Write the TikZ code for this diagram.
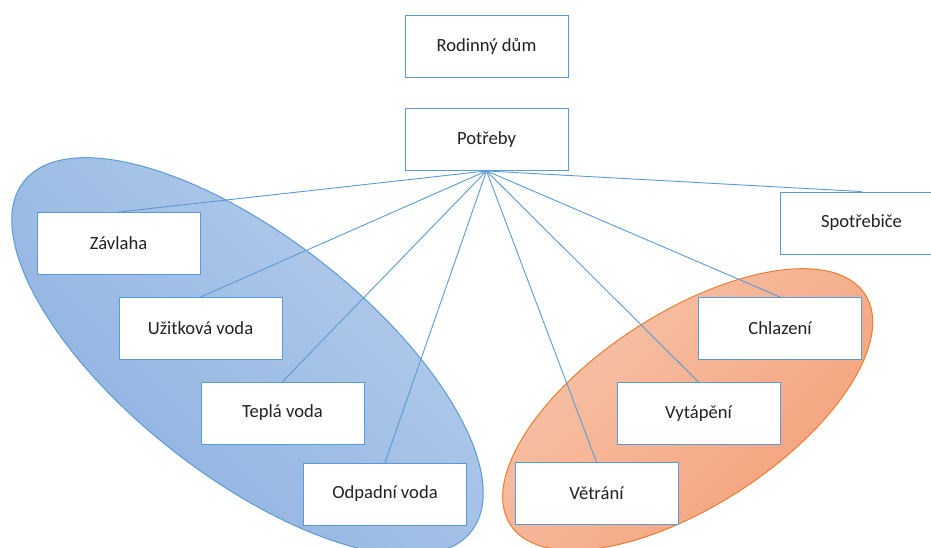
\documentclass[tikz,border=0pt]{standalone}
\usepackage{fontspec}
\setmainfont{Carlito}
\usetikzlibrary{backgrounds}
\definecolor{boxline}{HTML}{5B9BD5}
\definecolor{textgray}{HTML}{222222}
\definecolor{bluelight}{HTML}{B6CEEB}
\definecolor{bluedark}{HTML}{8BAFE0}
\definecolor{blueedge}{HTML}{5B9BD5}
\definecolor{orangelight}{HTML}{F7C5AB}
\definecolor{orangedark}{HTML}{F49F78}
\definecolor{orangeedge}{HTML}{ED7D31}
\begin{document}
\begin{tikzpicture}[x=1pt,y=1pt,
  box/.style={draw=boxline, fill=white, line width=0.9pt,
    minimum width=163pt, minimum height=62pt, inner sep=0pt,
    font=\fontsize{18.6}{22}\selectfont, text=textgray},
  link/.style={draw=boxline, line width=0.9pt},
  group/.style={line width=1pt}]
\clip (0,0) rectangle (931,-548);

% boxes
\node[box] (rod)  at (486.5,-46)    {Rodinný dům};
\node[box] (potr) at (486.5,-139.5) {Potřeby};
\node[box] (spot) at (861.5,-223)   {Spotřebiče};
\node[box] (zav)  at (118.5,-243.5) {Závlaha};
\node[box] (uzit) at (200.5,-328.5) {Užitková voda};
\node[box] (tepl) at (282.5,-413)   {Teplá voda};
\node[box] (odp)  at (385,-494)     {Odpadní voda};
\node[box] (chl)  at (780,-328.5)   {Chlazení};
\node[box] (vyt)  at (698.5,-413.5) {Vytápění};
\node[box] (vetr) at (596.5,-493.5) {Větrání};

\begin{scope}[on background layer]
  \fill[white] (0,0) rectangle (931,-548);
  % water group
  \shade[group, top color=bluelight, bottom color=bluedark, shading angle=-45,
         draw=blueedge, rotate around={-38:(247.5,-356.5)}]
    (247.5,-356.5) ellipse [x radius=284, y radius=120];
  % climate group
  \shade[group, top color=orangelight, bottom color=orangedark, shading angle=45,
         draw=orangeedge, rotate around={33:(687.7,-409.5)}]
    (687.7,-409.5) ellipse [x radius=211.5, y radius=96.5];
  % connectors
  \foreach \t in {spot,zav,uzit,tepl,odp,chl,vyt,vetr}
    \draw[link] (potr.south) -- (\t.north);
\end{scope}
\end{tikzpicture}
\end{document}
